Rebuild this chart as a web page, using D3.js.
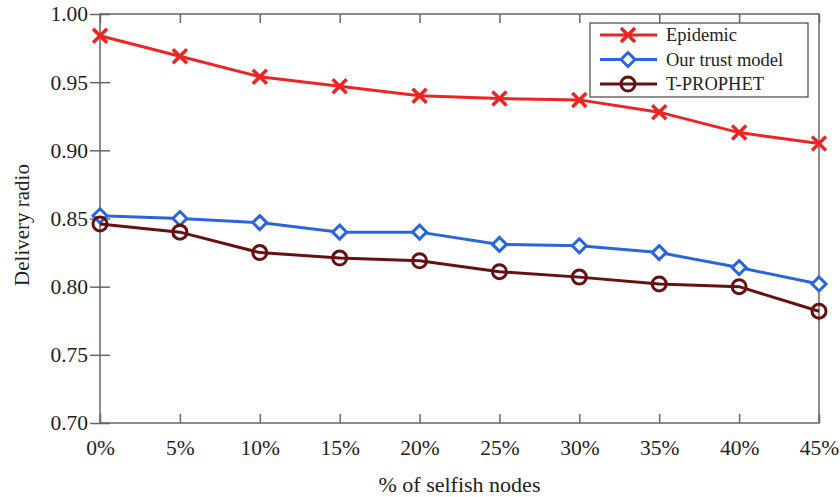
<!DOCTYPE html>
<html>
<head>
<meta charset="utf-8">
<script src="https://cdn.jsdelivr.net/npm/d3@7"></script>
<style>
  body { margin: 0; background: #fff; }
  text { font-family: "Liberation Serif", "Times New Roman", serif; fill: #222; }
  .axis path, .axis line { stroke: #666; stroke-width: 1.5; }
</style>
</head>
<body>
<div id="chart"></div>
<script>
var categories = ["0%", "5%", "10%", "15%", "20%", "25%", "30%", "35%", "40%", "45%"];
var epidemic = [0.984, 0.969, 0.954, 0.947, 0.940, 0.938, 0.937, 0.928, 0.913, 0.905];
var trustModel = [0.852, 0.850, 0.847, 0.840, 0.840, 0.831, 0.830, 0.825, 0.814, 0.802];
var tProphet = [0.846, 0.840, 0.825, 0.821, 0.819, 0.811, 0.807, 0.802, 0.800, 0.782];
var yTicks = [0.70, 0.75, 0.80, 0.85, 0.90, 0.95, 1.00];

var series = [
  { name: "Epidemic", values: epidemic, color: "#ee2424", marker: "x" },
  { name: "Our trust model", values: trustModel, color: "#2b65dc", marker: "diamond" },
  { name: "T-PROPHET", values: tProphet, color: "#6a0f0f", marker: "circle" }
];

var width = 840, height = 497;
var margin = { top: 14, right: 21, bottom: 74, left: 100 };
var graphWidth = width - margin.left - margin.right;
var graphHeight = height - margin.top - margin.bottom;

var svg = d3.select("#chart")
  .append("svg")
  .attr("width", width)
  .attr("height", height)
  .append("g")
  .attr("transform", "translate(" + margin.left + "," + margin.top + ")");

var x = d3.scalePoint()
  .domain(categories)
  .range([0, graphWidth]);

var y = d3.scaleLinear()
  .domain([0.70, 1.00])
  .range([graphHeight, 0]);

// frame
svg.append("rect")
  .attr("width", graphWidth)
  .attr("height", graphHeight)
  .attr("fill", "none")
  .attr("stroke", "#666")
  .attr("stroke-width", 1.5);

// x axis (ticks point inward)
svg.append("g")
  .attr("class", "x axis")
  .attr("transform", "translate(0," + graphHeight + ")")
  .call(d3.axisBottom(x).tickSizeInner(-9).tickSizeOuter(0).tickPadding(17))
  .call(function(g) { g.select(".domain").remove(); })
  .selectAll("text")
  .style("font-size", "21.5px");

// top ticks
svg.append("g")
  .attr("class", "x axis")
  .call(d3.axisTop(x).tickSizeInner(-9).tickSizeOuter(0).tickFormat(""))
  .call(function(g) { g.select(".domain").remove(); });

// y axis (ticks cross the axis)
var yAxis = svg.append("g")
  .attr("class", "y axis")
  .call(d3.axisLeft(y).tickValues(yTicks).tickFormat(d3.format(".2f")).tickSizeInner(10).tickSizeOuter(0).tickPadding(2))
  .call(function(g) { g.select(".domain").remove(); });
yAxis.selectAll(".tick line").attr("x1", 10);
yAxis.selectAll("text").style("font-size", "21.5px");

// axis labels
svg.append("text")
  .attr("x", graphWidth / 2)
  .attr("y", graphHeight + 69)
  .style("text-anchor", "middle")
  .style("font-size", "22px")
  .text("% of selfish nodes");

svg.append("text")
  .attr("transform", "rotate(-90)")
  .attr("x", 0 - graphHeight / 2 - 6.5)
  .attr("y", 0 - margin.left + 29)
  .style("text-anchor", "middle")
  .style("font-size", "21px")
  .text("Delivery radio");

// draw a marker at (cx, cy)
function drawMarker(g, type, cx, cy, color) {
  if (type == "x") {
    var s = 7;
    g.append("path")
      .attr("d", "M" + (cx - s) + "," + (cy - s) + "L" + (cx + s) + "," + (cy + s) +
                 "M" + (cx - s) + "," + (cy + s) + "L" + (cx + s) + "," + (cy - s))
      .attr("stroke", color).attr("stroke-width", 3.5).attr("fill", "none");
  } else if (type == "diamond") {
    var d = 7;
    g.append("path")
      .attr("d", "M" + cx + "," + (cy - d) + "L" + (cx + d) + "," + cy + "L" + cx + "," + (cy + d) + "L" + (cx - d) + "," + cy + "Z")
      .attr("stroke", color).attr("stroke-width", 3).attr("fill", "#fff");
  } else {
    g.append("circle")
      .attr("cx", cx).attr("cy", cy).attr("r", 7)
      .attr("stroke", color).attr("stroke-width", 3).attr("fill", "none");
  }
}

var line = d3.line()
  .x(function(d, i) { return x(categories[i]); })
  .y(function(d) { return y(d); });

series.forEach(function(s) {
  var g = svg.append("g");
  g.append("path")
    .attr("d", line(s.values))
    .attr("fill", "none")
    .attr("stroke", s.color)
    .attr("stroke-width", 3);
  s.values.forEach(function(v, i) {
    drawMarker(g, s.marker, x(categories[i]), y(v), s.color);
  });
});

// legend
var legend = svg.append("g")
  .attr("transform", "translate(" + (490) + "," + 9 + ")");

legend.append("rect")
  .attr("width", 218)
  .attr("height", 74)
  .attr("fill", "#fff")
  .attr("stroke", "#444")
  .attr("stroke-width", 1.2);

series.forEach(function(s, i) {
  var ly = 12 + i * 24.5;
  legend.append("line")
    .attr("x1", 10).attr("x2", 67)
    .attr("y1", ly).attr("y2", ly)
    .attr("stroke", s.color).attr("stroke-width", 3);
  drawMarker(legend, s.marker, 38, ly, s.color);
  legend.append("text")
    .attr("x", 76)
    .attr("y", ly)
    .attr("dy", "0.35em")
    .style("font-size", "18.5px")
    .text(s.name);
});
</script>
</body>
</html>
